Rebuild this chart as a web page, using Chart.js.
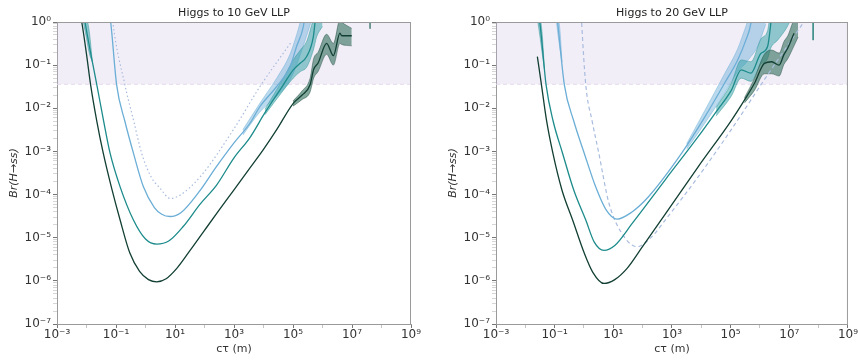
<!DOCTYPE html>
<html>
<head>
<meta charset="utf-8">
<script src="https://cdn.jsdelivr.net/npm/chart.js@4.4.1/dist/chart.umd.min.js"></script>
<style>
  html, body { margin: 0; padding: 0; background: #fff; }
  #wrap { position: relative; width: 858px; height: 360px; }
  .panel { position: absolute; top: 0; height: 360px; }
  #leftPanel { left: 0; width: 430px; }
  #rightPanel { left: 439px; width: 419px; }
</style>
</head>
<body>
<div id="wrap">
  <div class="panel" id="leftPanel"><canvas id="chart10"></canvas></div>
  <div class="panel" id="rightPanel"><canvas id="chart20"></canvas></div>
</div>
<script>
// axis ticks
const xTicks = [1e-3, 1e-1, 1e1, 1e3, 1e5, 1e7, 1e9];
const xTickLabels = ["10⁻³", "10⁻¹", "10¹", "10³", "10⁵", "10⁷", "10⁹"];
const yTicks = [1e-7, 1e-6, 1e-5, 1e-4, 1e-3, 1e-2, 1e-1, 1];
const yTickLabels = ["10⁻⁷", "10⁻⁶", "10⁻⁵", "10⁻⁴", "10⁻³", "10⁻²", "10⁻¹", "10⁰"];

// excluded region (invisible width bound)
const shadeLevel = 0.036;

// ---- Higgs to 10 GeV LLP ----
const ctau10Dark = [5.6e-3, 6.9e-3, 1.0e-2, 1.38e-2, 2.24e-2, 3.7e-2, 7.1e-2, 0.138, 0.295, 0.63, 1.26, 2.4, 5.0, 11.5, 32, 100, 316, 1000, 3160, 1.0e4, 2.8e4, 1.02e5, 2.0e5, 3.8e5, 5.0e5, 7.1e5, 1.38e6, 2.34e6, 3.9e6, 4.5e6, 9.8e6];
const br10Dark = [2.0, 1.0, 0.18, 3.5e-2, 5.0e-3, 9.1e-4, 1.41e-4, 2.57e-5, 4.4e-6, 1.66e-6, 1.07e-6, 9.5e-7, 1.12e-6, 1.95e-6, 5.0e-6, 1.48e-5, 4.4e-5, 1.29e-4, 3.8e-4, 1.12e-3, 3.2e-3, 1.3e-2, 2.0e-2, 3.5e-2, 7.9e-2, 0.112, 0.32, 0.166, 0.55, 0.48, 0.48];
const band10DarkX = [1.0e5, 2.0e5, 3.8e5, 5.0e5, 7.1e5, 1.38e6, 2.34e6, 3.9e6, 4.5e6, 9.8e6];
const band10DarkLo = [1.12e-2, 1.58e-2, 2.4e-2, 5.0e-2, 7.1e-2, 0.178, 0.1, 0.32, 0.3, 0.28];
const band10DarkHi = [1.48e-2, 2.5e-2, 5.0e-2, 0.141, 0.2, 0.52, 0.32, 1.12, 1.0, 0.71];

const ctau10Teal = [7.6e-3, 8.9e-3, 1.41e-2, 2.24e-2, 3.7e-2, 6.3e-2, 0.138, 0.39, 1.0, 2.4, 6.3, 19, 71, 257, 1000, 3470, 1.12e4, 4.7e4, 1.02e5, 1.78e5, 2.9e5, 4.9e5, 5.6e5, 6.3e5];
const br10Teal = [2.0, 1.0, 0.178, 3.5e-2, 5.6e-3, 9.1e-4, 1.51e-4, 2.57e-5, 9.3e-6, 7.1e-6, 8.5e-6, 1.82e-5, 6.0e-5, 1.66e-4, 7.1e-4, 2.1e-3, 7.9e-3, 3.5e-2, 7.8e-2, 0.112, 0.158, 0.46, 1.0, 2.0];
const band10TealX = [1.12e4, 4.7e4, 1.02e5, 1.78e5, 2.9e5, 4.9e5, 6.3e5, 1.0e6];
const band10TealLo = [7.1e-3, 2.6e-2, 5.0e-2, 7.1e-2, 8.9e-2, 0.224, 0.447, 0.79];
const band10TealHi = [9.5e-3, 5.0e-2, 0.132, 0.224, 0.355, 1.12, 1.58, 1.58];
const band10TealEdgeX = [7.9e-3, 1.0e-2, 1.26e-2, 1.58e-2];
const band10TealEdgeLo = [0.95, 0.42, 0.18, 0.12];
const band10TealEdgeHi = [2.0, 1.32, 0.56, 0.12];

const ctau10Blue = [5.6e-2, 6.6e-2, 0.105, 0.2, 0.39, 0.85, 2.0, 3.55, 6.8, 15.8, 63, 257, 1000, 3470, 7600, 2.8e4, 7.9e4, 1.32e5, 2.24e5, 2.6e5];
const br10Blue = [2.0, 1.0, 3.5e-2, 5.0e-3, 9.1e-4, 1.51e-4, 5.0e-5, 3.5e-5, 3.1e-5, 3.8e-5, 1.12e-4, 4.5e-4, 1.58e-3, 4.5e-3, 1.1e-2, 3.2e-2, 9.1e-2, 0.27, 0.78, 1.58];
const band10BlueX = [2000, 7600, 2.8e4, 7.9e4, 1.32e5, 2.24e5, 4.0e5];
const band10BlueLo = [2.4e-3, 8.3e-3, 1.9e-2, 4.5e-2, 0.1, 0.28, 0.95];
const band10BlueHi = [3.2e-3, 1.32e-2, 5.0e-2, 0.178, 0.5, 1.58, 2.0];

const ctau10Ref = [7.1e-2, 7.8e-2, 0.2, 0.4, 0.74, 1.58, 3.1, 6.8, 15.8, 71, 955, 7600, 8.9e4];
const br10Ref = [2.0, 1.0, 3.5e-2, 5.0e-3, 9.1e-4, 2.5e-4, 1.41e-4, 8.1e-5, 1.0e-4, 2.57e-4, 3.2e-3, 3.2e-2, 0.35];

const ctau10Stub = [4.1e7, 4.1e7];
const br10Stub = [1.2, 0.7];

// ---- Higgs to 20 GeV LLP ----
const ctau20Dark = [2.57e-2, 3.55e-2, 5.2e-2, 8.7e-2, 0.178, 0.41, 1.02, 2.0, 4.8, 11.2, 29.5, 100, 589, 7800, 1.05e5, 2.95e5, 6.5e5, 1.41e6, 2.5e6, 4.5e6, 6.6e6, 8.9e6, 1.45e7];
const br20Dark = [0.158, 3.5e-2, 5.6e-3, 9.1e-4, 1.26e-4, 2.57e-5, 4.4e-6, 1.58e-6, 8.7e-7, 1.07e-6, 1.95e-6, 6.3e-6, 3.5e-5, 4.4e-4, 5.2e-3, 1.55e-2, 3.8e-2, 0.11, 0.12, 0.1, 0.178, 0.25, 0.55];
const band20DarkX = [2.95e5, 6.5e5, 1.41e6, 2.5e6, 4.5e6, 6.6e6, 8.9e6, 1.45e7, 2.0e7];
const band20DarkLo = [1.32e-2, 2.6e-2, 6.3e-2, 6.3e-2, 5.6e-2, 0.105, 0.141, 0.28, 0.45];
const band20DarkHi = [1.74e-2, 5.0e-2, 0.178, 0.224, 0.19, 0.355, 0.48, 1.12, 1.26];

const ctau20Teal = [2.5e-2, 3.1e-2, 5.1e-2, 8.9e-2, 0.186, 0.45, 1.15, 2.24, 4.8, 11.2, 44, 589, 7800, 3.2e4, 1.05e5, 2.3e5, 4.9e5, 1.07e6, 1.82e6, 2.34e6, 2.6e6];
const br20Teal = [2.0, 1.0, 3.5e-2, 5.0e-3, 9.1e-4, 1.26e-4, 2.57e-5, 7.9e-6, 5.1e-6, 6.6e-6, 2.14e-5, 2.2e-4, 2.2e-3, 8.3e-3, 2.6e-2, 7.8e-2, 6.5e-2, 0.186, 0.27, 0.93, 2.0];
const band20TealX = [3.2e4, 1.05e5, 2.3e5, 4.9e5, 1.07e6, 1.82e6, 2.34e6, 4.0e6, 7.9e6, 1.12e7];
const band20TealLo = [6.6e-3, 1.9e-2, 5.0e-2, 4.2e-2, 0.105, 0.141, 0.25, 0.38, 0.71, 1.12];
const band20TealHi = [1.05e-2, 3.8e-2, 0.132, 0.12, 0.4, 0.63, 1.58, 1.58, 1.58, 1.58];
const band20TealEdgeX = [2.6e-2, 3.1e-2, 3.7e-2, 4.5e-2];
const band20TealEdgeLo = [1.1, 0.5, 0.2, 0.08];
const band20TealEdgeHi = [2.0, 1.4, 0.6, 0.08];

const ctau20Blue = [0.112, 0.126, 0.214, 0.45, 1.02, 2.5, 5.6, 13.5, 40, 158, 2140, 1.32e4, 6.2e4, 1.74e5, 3.3e5, 4.9e5, 5.6e5];
const br20Blue = [2.0, 1.0, 3.5e-2, 5.0e-3, 9.1e-4, 1.51e-4, 4.5e-5, 2.7e-5, 3.8e-5, 8.9e-5, 9.1e-4, 6.3e-3, 3.8e-2, 0.132, 0.38, 0.93, 2.0];
const band20BlueX = [3160, 1.32e4, 6.2e4, 1.74e5, 3.3e5, 4.9e5, 7.9e5, 1.58e6];
const band20BlueLo = [1.12e-3, 4.5e-3, 2.24e-2, 7.1e-2, 0.112, 0.158, 0.25, 0.89];
const band20BlueHi = [1.51e-3, 8.9e-3, 6.3e-2, 0.24, 0.79, 1.58, 1.58, 1.58];
const band20BlueEdgeX = [0.112, 0.126, 0.15, 0.178];
const band20BlueEdgeLo = [1.2, 0.6, 0.25, 0.12];
const band20BlueEdgeHi = [2.0, 1.5, 0.7, 0.12];

const ctau20Ref = [0.79, 0.83, 1.15, 1.9, 3.2, 7.1, 23, 65, 204, 589, 7800, 1.05e5, 1.41e6, 3.2e7];
const br20Ref = [2.0, 1.0, 3.5e-2, 5.0e-3, 9.1e-4, 6.3e-5, 1.07e-5, 6.2e-6, 1.05e-5, 2.57e-5, 2.57e-4, 3.2e-3, 4.6e-2, 1.02];

const ctau20Stub = [6.5e7, 6.5e7];
const br20Stub = [1.2, 0.38];

const DARK = "#123f33";
const TEAL = "#1d8b8b";
const BLUE = "#6baed6";
const REF = "#a9bcde";

function pts(xs, ys) {
  return xs.map((x, i) => ({ x: x, y: ys[i] }));
}

function lineSet(xs, ys, color, extra) {
  return Object.assign({
    data: pts(xs, ys),
    borderColor: color,
    borderWidth: 1.3,
    pointRadius: 0,
    fill: false,
    cubicInterpolationMode: "monotone",
    order: 1,
  }, extra || {});
}

function bandSets(xs, lo, hi, fillColor, edgeColor) {
  return [
    {
      data: pts(xs, lo),
      borderColor: edgeColor,
      borderWidth: 0.6,
      pointRadius: 0,
      fill: false,
      cubicInterpolationMode: "monotone",
      order: 2,
    },
    {
      data: pts(xs, hi),
      borderColor: edgeColor,
      borderWidth: 0.6,
      pointRadius: 0,
      backgroundColor: fillColor,
      fill: "-1",
      cubicInterpolationMode: "monotone",
      order: 2,
    },
  ];
}

function shadeSet() {
  return {
    data: [{ x: 1e-3, y: shadeLevel }, { x: 1e9, y: shadeLevel }],
    borderColor: "#e4d9ee",
    borderWidth: 1,
    borderDash: [4, 3],
    backgroundColor: "rgba(205,188,226,0.25)",
    pointRadius: 0,
    fill: "end",
    order: 3,
  };
}

const panelTitle = {
  id: "panelTitle",
  afterDraw(chart, args, opts) {
    const { ctx, chartArea } = chart;
    ctx.save();
    ctx.font = "11px 'DejaVu Sans'";
    ctx.fillStyle = "#222";
    ctx.textAlign = "center";
    ctx.textBaseline = "middle";
    ctx.fillText(opts.text, (chartArea.left + chartArea.right) / 2, 13);
    ctx.restore();
  },
};

const frame = {
  id: "frame",
  afterDatasetsDraw(chart) {
    const { ctx, chartArea } = chart;
    ctx.save();
    ctx.strokeStyle = "#9a9a9a";
    ctx.lineWidth = 1;
    ctx.beginPath();
    ctx.moveTo(chartArea.left, chartArea.top + 0.5);
    ctx.lineTo(chartArea.right, chartArea.top + 0.5);
    ctx.moveTo(chartArea.right - 0.5, chartArea.top);
    ctx.lineTo(chartArea.right - 0.5, chartArea.bottom);
    ctx.stroke();
    ctx.restore();
  },
};

function makeOptions(title, padRight) {
  const tickFont = { family: "'DejaVu Sans'", size: 12 };
  return {
    responsive: true,
    maintainAspectRatio: false,
    animation: false,
    layout: { padding: { top: 22, right: padRight, left: 0, bottom: 0 } },
    plugins: {
      legend: { display: false },
      tooltip: { enabled: false },
      panelTitle: { text: title },
    },
    scales: {
      x: {
        type: "logarithmic",
        min: 1e-3,
        max: 1e9,
        afterFit: (s) => { s.height = 36; },
        afterBuildTicks: (s) => {
          const t = [];
          for (let e = -3; e <= 9; e++) t.push({ value: Math.pow(10, e) });
          s.ticks = t;
        },
        border: { color: "#9a9a9a", width: 1 },
        grid: {
          drawOnChartArea: false,
          drawTicks: true,
          tickLength: 4,
          tickColor: (c) => (c.tick && xTicks.includes(c.tick.value) ? "#777" : "#aaa"),
          tickWidth: (c) => (c.tick && xTicks.includes(c.tick.value) ? 1 : 0.7),
        },
        ticks: {
          autoSkip: false,
          maxRotation: 0,
          padding: 0,
          color: "#333",
          font: tickFont,
          callback: (v) => {
            const i = xTicks.indexOf(v);
            return i >= 0 ? xTickLabels[i] : "";
          },
        },
        title: {
          display: true,
          text: "cτ (m)",
          color: "#333",
          font: { family: "'DejaVu Sans'", size: 11 },
          padding: { top: 0, bottom: 4 },
        },
      },
      y: {
        type: "logarithmic",
        min: 1e-7,
        max: 1,
        afterFit: (s) => { s.width = 57; },
        afterBuildTicks: (s) => {
          const t = [];
          for (let e = -7; e <= 0; e++) {
            const d = Math.pow(10, e);
            t.push({ value: yTicks[e + 7] });
            if (e < 0) for (let m = 2; m <= 9; m++) t.push({ value: d * m });
          }
          s.ticks = t;
        },
        border: { color: "#9a9a9a", width: 1 },
        grid: {
          drawOnChartArea: false,
          drawTicks: true,
          tickLength: 4,
          tickColor: (c) => (c.tick && yTicks.includes(c.tick.value) ? "#777" : "#bbb"),
          tickWidth: (c) => (c.tick && yTicks.includes(c.tick.value) ? 1 : 0.6),
        },
        ticks: {
          autoSkip: false,
          padding: 2,
          color: "#333",
          font: tickFont,
          callback: (v) => {
            const i = yTicks.indexOf(v);
            return i >= 0 ? yTickLabels[i] : "";
          },
        },
        title: {
          display: true,
          text: "Br(H→ss)",
          color: "#333",
          font: { family: "'DejaVu Sans'", size: 11, style: "italic" },
          padding: { top: 8, bottom: 0 },
        },
      },
    },
  };
}

const darkFill = "rgba(48,110,90,0.6)";
const darkEdge = "rgba(18,63,51,0.7)";
const tealFill = "rgba(45,160,165,0.5)";
const tealEdge = "rgba(29,139,139,0.7)";
const blueFill = "rgba(107,174,214,0.45)";
const blueEdge = "rgba(107,174,214,0.8)";

new Chart(document.getElementById("chart10").getContext("2d"), {
  type: "line",
  data: {
    datasets: [
      lineSet(ctau10Dark, br10Dark, DARK),
      lineSet(ctau10Teal, br10Teal, TEAL),
      lineSet(ctau10Blue, br10Blue, BLUE),
      lineSet(ctau10Ref, br10Ref, REF, { borderDash: [1.5, 2.5], borderWidth: 1.2 }),
      lineSet(ctau10Stub, br10Stub, "#5f8f86", { borderWidth: 1, cubicInterpolationMode: "default" }),
      ...bandSets(band10DarkX, band10DarkLo, band10DarkHi, darkFill, darkEdge),
      ...bandSets(band10TealX, band10TealLo, band10TealHi, tealFill, tealEdge),
      ...bandSets(band10TealEdgeX, band10TealEdgeLo, band10TealEdgeHi, tealFill, tealEdge),
      ...bandSets(band10BlueX, band10BlueLo, band10BlueHi, blueFill, blueEdge),
      shadeSet(),
    ],
  },
  options: makeOptions("Higgs to 10 GeV LLP", 19),
  plugins: [panelTitle, frame],
});

new Chart(document.getElementById("chart20").getContext("2d"), {
  type: "line",
  data: {
    datasets: [
      lineSet(ctau20Dark, br20Dark, DARK),
      lineSet(ctau20Teal, br20Teal, TEAL),
      lineSet(ctau20Blue, br20Blue, BLUE),
      lineSet(ctau20Ref, br20Ref, REF, { borderDash: [4, 3], borderWidth: 1.2 }),
      lineSet(ctau20Stub, br20Stub, "#3f8f88", { borderWidth: 1, cubicInterpolationMode: "default" }),
      ...bandSets(band20DarkX, band20DarkLo, band20DarkHi, darkFill, darkEdge),
      ...bandSets(band20TealX, band20TealLo, band20TealHi, tealFill, tealEdge),
      ...bandSets(band20TealEdgeX, band20TealEdgeLo, band20TealEdgeHi, tealFill, tealEdge),
      ...bandSets(band20BlueX, band20BlueLo, band20BlueHi, blueFill, blueEdge),
      ...bandSets(band20BlueEdgeX, band20BlueEdgeLo, band20BlueEdgeHi, blueFill, blueEdge),
      shadeSet(),
    ],
  },
  options: makeOptions("Higgs to 20 GeV LLP", 7),
  plugins: [panelTitle, frame],
});
</script>
</body>
</html>
